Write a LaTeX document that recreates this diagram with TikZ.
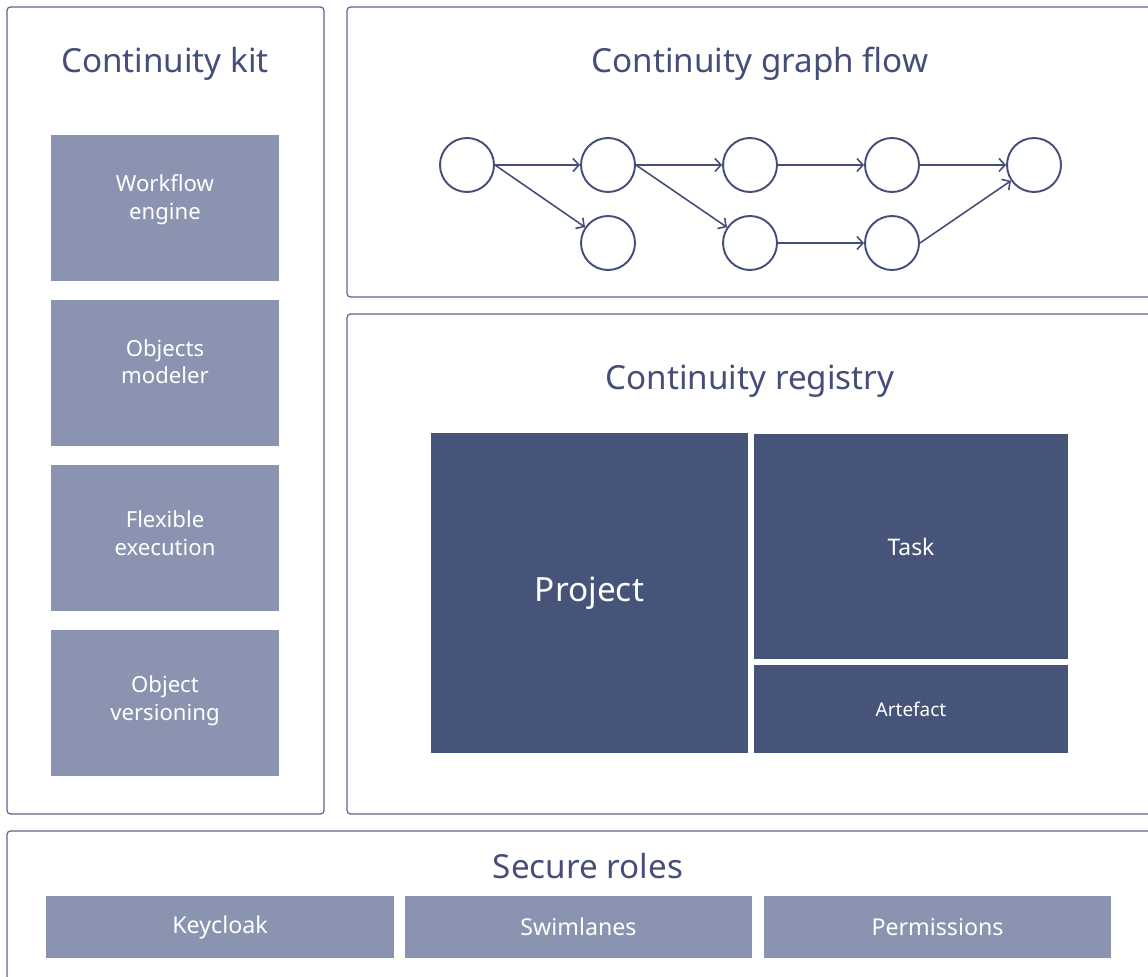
\documentclass[tikz,border=0pt]{standalone}
\usepackage{fontspec}
\setmainfont{Noto Sans}
\usetikzlibrary{arrows.meta}
\definecolor{inkblue}{HTML}{444E78}
\definecolor{rimblue}{HTML}{5B6591}
\definecolor{navyfill}{HTML}{475479}
\definecolor{softfill}{HTML}{8A94B0}
\tikzset{panel/.style={draw=rimblue,line width=0.7pt,rounded corners=2pt}}
\tikzset{panel title/.style={text=inkblue,font=\fontsize{18.9}{22}\selectfont}}
\tikzset{kit box/.style={fill=softfill,text=white,align=center,inner sep=0,minimum width=4.56cm,minimum height=2.92cm,text depth=13pt,font=\fontsize{12.6}{15.9}\selectfont}}
\tikzset{role box/.style={fill=softfill,text=white,inner sep=0,minimum width=6.96cm,minimum height=1.24cm,font=\fontsize{13.2}{15.9}\selectfont}}
\tikzset{reg box/.style={fill=navyfill,text=white,inner sep=0}}
\tikzset{flow node/.style={circle,draw=inkblue,line width=1.1pt,minimum size=1.08cm,inner sep=0}}
\tikzset{flow edge/.style={draw=inkblue,line width=0.9pt,-{Straight Barb[length=1.2mm,width=2.6mm]}}}

\begin{document}
\begin{tikzpicture}[x=0.02cm,y=-0.02cm]
  \useasboundingbox (0,0) rectangle (1148,976);
  \clip (0,0) rectangle (1148,976);

  % panels
  \draw[panel] (7,7) rectangle (324,814);
  \draw[panel] (347,7) rectangle (1170,297);
  \draw[panel] (347,314) rectangle (1170,814);
  \draw[panel] (7,831) rectangle (1170,1000);

  \node[panel title] (kit title) at (165,64) {Continuity kit};
  \node[panel title] (flow title) at (760,64) {Continuity graph flow};
  \node[panel title] (registry title) at (750,381) {Continuity registry};
  \node[panel title] (roles title) at (588,866) {Secure roles};

  % continuity kit
  \node[kit box] (workflow) at (165,208) {Workflow\\engine};
  \node[kit box] (modeler) at (165,373) {Objects\\modeler};
  \node[kit box,text depth=6pt] (execution) at (165,538) {Flexible\\execution};
  \node[kit box,text depth=6pt] (versioning) at (165,703) {Object\\versioning};

  % graph flow
  \node[flow node] (f1) at (467,165) {};
  \node[flow node] (f2) at (608,165) {};
  \node[flow node] (f3) at (750,165) {};
  \node[flow node] (f4) at (892,165) {};
  \node[flow node] (f5) at (1034,165) {};
  \node[flow node] (g2) at (608,243) {};
  \node[flow node] (g3) at (750,243) {};
  \node[flow node] (g4) at (892,243) {};

  \draw[flow edge] (f1) -- (f2);
  \draw[flow edge] (f1.east) -- (g2);
  \draw[flow edge] (f2) -- (f3);
  \draw[flow edge] (f2.east) -- (g3);
  \draw[flow edge] (f3) -- (f4);
  \draw[flow edge] (f4) -- (f5);
  \draw[flow edge] (g3) -- (g4);
  \draw[flow edge] (g4.east) -- (f5);

  % registry
  \node[reg box,minimum width=6.34cm,minimum height=6.4cm,font=\fontsize{19}{22}\selectfont] (project) at (589.5,593) {Project};
  \node[reg box,minimum width=6.28cm,minimum height=4.5cm,font=\fontsize{13}{15}\selectfont] (task) at (911,546.5) {Task};
  \node[reg box,minimum width=6.28cm,minimum height=1.76cm,font=\fontsize{10.8}{12}\selectfont] (artefact) at (911,709) {Artefact};

  % secure roles
  \node[role box] (keycloak) at (220,927) {Keycloak};
  \node[role box] (swimlanes) at (578.5,927) {Swimlanes};
  \node[role box] (permissions) at (937.5,927) {Permissions};

\end{tikzpicture}
\end{document}
